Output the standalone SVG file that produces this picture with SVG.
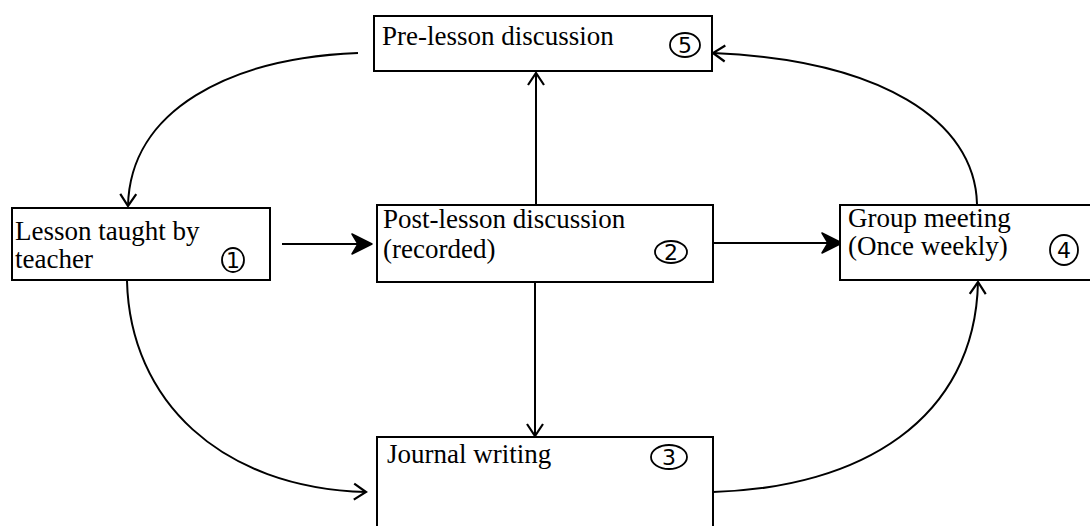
<svg xmlns="http://www.w3.org/2000/svg" width="1090" height="526" viewBox="0 0 1090 526">
<style>
.box{fill:#fff;stroke:#000;stroke-width:2}
.lbl{font-family:"Liberation Serif","Times New Roman",serif;font-size:27px;fill:#000}
.num{font-family:"DejaVu Sans","Liberation Sans",sans-serif;font-size:22px;fill:#000;text-anchor:middle}
.circ{fill:none;stroke:#000;stroke-width:1.8}
.ln{fill:none;stroke:#000;stroke-width:2}
</style>
<defs>
<marker id="v" markerUnits="userSpaceOnUse" markerWidth="30" markerHeight="30" viewBox="-15 -15 30 30" refX="0" refY="0" orient="auto">
<path d="M-12,-8 L0,0 L-12,8" fill="none" stroke="#000" stroke-width="2.2"/>
</marker>
<marker id="f" markerUnits="userSpaceOnUse" markerWidth="30" markerHeight="30" viewBox="-25 -15 30 30" refX="0" refY="0" orient="auto">
<path d="M-20,-10 L0,0 L-20,10 L-14,0 z" fill="#000" stroke="#000" stroke-width="1.5" stroke-linejoin="round"/>
</marker>
</defs>
<g id="connectors">
<path class="ln" d="M282,244 L372,244" marker-end="url(#f)"/>
<path class="ln" d="M713,243 L842,243" marker-end="url(#f)"/>
<path class="ln" d="M536,205 L536,73" marker-end="url(#v)"/>
<path class="ln" d="M535,282 L535,436" marker-end="url(#v)"/>
<path class="ln" d="M358,53 C230,58 130,110 128,206" marker-end="url(#v)"/>
<path class="ln" d="M977,204 C975,120 880,60 713,53" marker-end="url(#v)"/>
<path class="ln" d="M127,281 C130,400 220,488 366,492" marker-end="url(#v)"/>
<path class="ln" d="M713,492 C860,488 975,420 978,282" marker-end="url(#v)"/>
</g>
<g id="node5">
<rect class="box" x="374" y="16" width="338" height="55"/>
<text class="lbl" x="382" y="45">Pre-lesson discussion</text>
<ellipse class="circ" cx="685" cy="45" rx="15" ry="12"/>
<text class="num" x="685" y="53">5</text>
</g>
<g id="node1">
<rect class="box" x="12" y="208" width="258" height="72"/>
<text class="lbl" x="15" y="240">Lesson taught by</text>
<text class="lbl" x="15" y="268">teacher</text>
<ellipse class="circ" cx="233" cy="260" rx="11" ry="12"/>
<text class="num" x="233" y="268">1</text>
</g>
<g id="node2">
<rect class="box" x="377" y="205" width="336" height="77"/>
<text class="lbl" x="383" y="228">Post-lesson discussion</text>
<text class="lbl" x="383" y="258">(recorded)</text>
<ellipse class="circ" cx="671" cy="252" rx="16" ry="11"/>
<text class="num" x="671" y="260">2</text>
</g>
<g id="node4">
<rect class="box" x="840" y="205" width="260" height="75"/>
<text class="lbl" x="848" y="227">Group meeting</text>
<text class="lbl" x="848" y="255">(Once weekly)</text>
<ellipse class="circ" cx="1064" cy="250" rx="14" ry="15"/>
<text class="num" x="1064" y="258">4</text>
</g>
<g id="node3">
<rect class="box" x="377" y="437" width="336" height="100"/>
<text class="lbl" x="387" y="463">Journal writing</text>
<ellipse class="circ" cx="669" cy="457" rx="18" ry="12"/>
<text class="num" x="669" y="465">3</text>
</g>
</svg>
